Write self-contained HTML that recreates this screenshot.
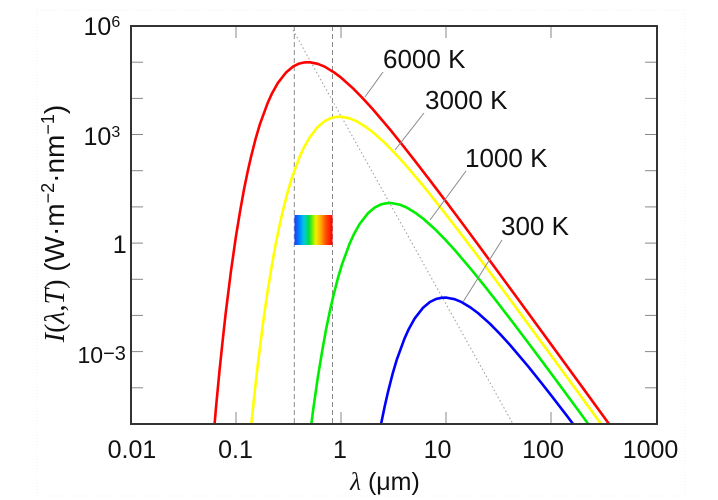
<!DOCTYPE html>
<html>
<head>
<meta charset="utf-8">
<style>
html,body{margin:0;padding:0;background:#fff;width:718px;height:500px;overflow:hidden;}
svg{display:block;}
</style>
</head>
<body>
<svg width="718" height="500" viewBox="0 0 718 500" xmlns="http://www.w3.org/2000/svg" font-family="'Liberation Sans', Arial, sans-serif">
<defs>
  <clipPath id="pc"><rect x="131" y="26" width="526" height="398"/></clipPath>
  <linearGradient id="sp" x1="0" x2="1" y1="0" y2="0">
    <stop offset="0" stop-color="#1a3cff"/>
    <stop offset="0.12" stop-color="#0080ff"/>
    <stop offset="0.25" stop-color="#00c8e0"/>
    <stop offset="0.38" stop-color="#00e040"/>
    <stop offset="0.48" stop-color="#80f000"/>
    <stop offset="0.56" stop-color="#f0f000"/>
    <stop offset="0.68" stop-color="#ffb000"/>
    <stop offset="0.82" stop-color="#ff5000"/>
    <stop offset="1" stop-color="#ff0000"/>
  </linearGradient>
</defs>

<rect x="0" y="0" width="718" height="500" fill="#fff"/>
<rect x="37" y="10" width="648" height="486" fill="none" stroke="#f3f3f3" stroke-width="1" stroke-dasharray="1,2"/>

<g clip-path="url(#pc)">
  <line x1="294.3" y1="26" x2="294.3" y2="424" stroke="#8a8a8a" stroke-width="1" stroke-dasharray="5,3"/>
  <line x1="332.5" y1="26" x2="332.5" y2="424" stroke="#8a8a8a" stroke-width="1" stroke-dasharray="5,3"/>
  <line x1="293" y1="30" x2="513" y2="424" stroke="#999" stroke-width="1" stroke-dasharray="1.5,2.5"/>
  <rect x="294.5" y="215" width="38" height="30" fill="url(#sp)"/>
  <g fill="none" stroke-width="2.6" stroke-linejoin="round" stroke-linecap="round">
  <path stroke="#0000ff" d="M377.1,446.0 L381.0,424.3 L384.7,406.4 L388.1,391.5 L392.7,373.5 L396.9,359.3 L404.4,338.8 L408.7,329.2 L414.6,318.6 L422.9,307.9 L429.9,302.0 L436.0,299.0 L441.4,297.8 L446.2,297.6 L454.6,299.2 L461.6,302.1 L470.5,307.5 L477.9,313.0 L489.9,323.7 L499.4,333.4 L509.6,344.5 L528.1,366.3 L541.2,382.7 L551.4,395.7 L566.8,415.7 L583.1,437.2"/>
  <path stroke="#00ee00" d="M307.5,454.8 L312.9,411.7 L317.7,378.1 L322.1,351.4 L326.0,329.7 L329.7,311.8 L333.1,296.9 L337.7,278.9 L341.9,264.7 L349.4,244.2 L353.7,234.6 L359.6,224.0 L367.9,213.3 L374.9,207.4 L381.0,204.4 L386.4,203.2 L391.2,203.0 L399.6,204.6 L406.6,207.5 L415.5,212.9 L422.9,218.4 L434.9,229.1 L444.4,238.8 L454.6,249.9 L473.1,271.7 L486.2,288.1 L496.4,301.1 L511.8,321.1 L528.1,342.6 L543.5,363.2 L559.8,385.2 L578.3,410.4 L601.6,442.2"/>
  <path stroke="#ffff00" d="M247.8,460.9 L251.2,425.3 L254.4,394.8 L257.3,368.5 L262.7,325.4 L267.5,291.8 L271.9,265.1 L275.8,243.4 L279.5,225.5 L282.9,210.6 L287.5,192.6 L291.7,178.4 L299.2,157.9 L303.5,148.3 L309.4,137.7 L317.7,127.0 L324.7,121.1 L330.8,118.1 L336.2,116.9 L341.0,116.7 L349.4,118.3 L356.4,121.2 L365.3,126.6 L372.7,132.1 L384.7,142.8 L394.2,152.5 L404.4,163.6 L422.9,185.4 L436.0,201.8 L446.2,214.8 L461.6,234.8 L477.9,256.3 L493.3,276.9 L509.6,298.9 L528.1,324.1 L551.4,355.9 L583.1,399.3 L614.8,442.8"/>
  <path stroke="#ff0000" d="M212.5,448.4 L216.1,406.4 L219.5,370.8 L222.7,340.3 L225.6,314.0 L231.0,270.9 L235.8,237.3 L240.2,210.6 L244.1,188.9 L247.8,171.0 L251.2,156.1 L255.8,138.1 L260.0,123.9 L267.5,103.4 L271.8,93.8 L277.7,83.2 L286.0,72.5 L293.0,66.6 L299.1,63.6 L304.5,62.4 L309.3,62.2 L317.7,63.8 L324.7,66.7 L333.6,72.1 L341.0,77.6 L353.0,88.3 L362.5,98.0 L372.7,109.1 L391.2,130.9 L404.3,147.3 L414.5,160.3 L429.9,180.3 L446.2,201.8 L461.6,222.4 L477.9,244.4 L496.4,269.6 L519.7,301.4 L551.4,344.8 L583.1,388.3 L620.1,439.2"/>
  </g>
</g>

<g stroke="#8a8a8a" stroke-width="1">
  <line x1="383" y1="72" x2="365" y2="97"/>
  <line x1="424" y1="113" x2="395" y2="150"/>
  <line x1="466" y1="171" x2="430" y2="220"/>
  <line x1="502" y1="240" x2="463" y2="302"/>
</g>

<g stroke="#888" stroke-width="1">
  <line x1="132" y1="62.2" x2="143" y2="62.2"/>
  <line x1="132" y1="98.4" x2="143" y2="98.4"/>
  <line x1="132" y1="134.5" x2="143" y2="134.5"/>
  <line x1="132" y1="170.7" x2="143" y2="170.7"/>
  <line x1="132" y1="206.9" x2="143" y2="206.9"/>
  <line x1="132" y1="243.1" x2="143" y2="243.1"/>
  <line x1="132" y1="279.3" x2="143" y2="279.3"/>
  <line x1="132" y1="315.4" x2="143" y2="315.4"/>
  <line x1="132" y1="351.6" x2="143" y2="351.6"/>
  <line x1="132" y1="387.8" x2="143" y2="387.8"/>
  <line x1="645" y1="62.2" x2="656" y2="62.2"/>
  <line x1="645" y1="98.4" x2="656" y2="98.4"/>
  <line x1="645" y1="134.5" x2="656" y2="134.5"/>
  <line x1="645" y1="170.7" x2="656" y2="170.7"/>
  <line x1="645" y1="206.9" x2="656" y2="206.9"/>
  <line x1="645" y1="243.1" x2="656" y2="243.1"/>
  <line x1="645" y1="279.3" x2="656" y2="279.3"/>
  <line x1="645" y1="315.4" x2="656" y2="315.4"/>
  <line x1="645" y1="351.6" x2="656" y2="351.6"/>
  <line x1="645" y1="387.8" x2="656" y2="387.8"/>
  <line x1="236" y1="27" x2="236" y2="38"/>
  <line x1="341" y1="27" x2="341" y2="38"/>
  <line x1="446" y1="27" x2="446" y2="38"/>
  <line x1="551" y1="27" x2="551" y2="38"/>
  <line x1="236" y1="412" x2="236" y2="423"/>
  <line x1="341" y1="412" x2="341" y2="423"/>
  <line x1="446" y1="412" x2="446" y2="423"/>
  <line x1="551" y1="412" x2="551" y2="423"/>
</g>

<rect x="131" y="26" width="526" height="398" fill="none" stroke="#333" stroke-width="2"/>

<g fill="#111" font-size="25">
  <text x="83.5" y="35">10<tspan font-size="16" dy="-8">6</tspan></text>
  <text x="83.5" y="145">10<tspan font-size="16" dy="-8">3</tspan></text>
  <text x="112.7" y="253">1</text>
  <text x="77.5" y="363" font-size="23">10<tspan font-size="20" dy="-3">−3</tspan></text>
</g>

<g fill="#111" font-size="25" text-anchor="middle">
  <text x="132" y="458">0.01</text>
  <text x="235.5" y="458">0.1</text>
  <text x="340" y="458">1</text>
  <text x="437.5" y="458">10</text>
  <text x="543" y="458">100</text>
  <text x="650.5" y="458">1000</text>
</g>

<g fill="#111" font-size="26">
  <text x="383" y="68">6000 K</text>
  <text x="425" y="109">3000 K</text>
  <text x="465" y="167">1000 K</text>
  <text x="501" y="235">300 K</text>
</g>

<text x="385" y="490" font-size="25" fill="#111" text-anchor="middle"><tspan font-family="'Liberation Serif', 'Times New Roman', serif" font-style="italic">λ</tspan> (μm)</text>

<text transform="translate(64,223.5) rotate(-90)" font-size="28" fill="#111" text-anchor="middle"><tspan font-family="'Liberation Serif', 'Times New Roman', serif" font-style="italic">I</tspan><tspan font-family="'Liberation Serif', 'Times New Roman', serif">(</tspan><tspan font-family="'Liberation Serif', 'Times New Roman', serif" font-style="italic">λ</tspan><tspan font-family="'Liberation Serif', 'Times New Roman', serif">,</tspan><tspan font-family="'Liberation Serif', 'Times New Roman', serif" font-style="italic">T</tspan><tspan font-family="'Liberation Serif', 'Times New Roman', serif">)</tspan> (W·m<tspan font-size="18" dy="-10">−2</tspan><tspan dy="10">·nm</tspan><tspan font-size="18" dy="-10">−1</tspan><tspan dy="10">)</tspan></text>
</svg>
</body>
</html>
